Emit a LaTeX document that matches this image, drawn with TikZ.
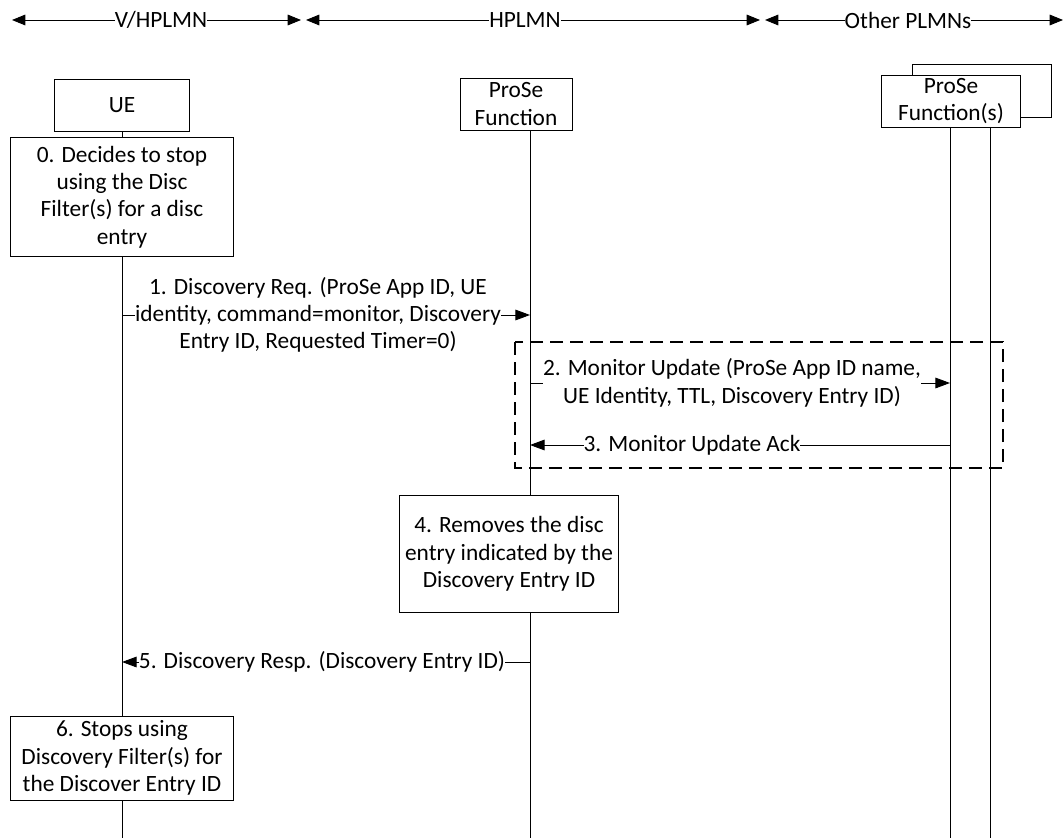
\documentclass[tikz,border=0pt]{standalone}
\usepackage{fontspec}
\setmainfont{Carlito}
\usetikzlibrary{arrows.meta}

\tikzset{
    entity/.style={draw, fill=white, align=center, minimum width=#1, minimum height=39pt, inner sep=2pt},
    entity/.default=101pt,
    action/.style={draw, fill=white, align=center, inner sep=3pt},
    msg/.style={-{Triangle[length=11pt,width=8pt]}},
    span/.style={{Triangle[length=10pt,width=8pt]}-{Triangle[length=10pt,width=8pt]}},
    msgtext/.style={fill=white, align=center, inner xsep=0pt, inner ysep=1pt},
}

\begin{document}
\begin{tikzpicture}[x=0.75pt, y=-0.75pt, font=\fontsize{17.5}{20.5}\selectfont, line width=0.7pt]
        \useasboundingbox (0,0) rectangle (1063,838);

        % Network spans
        \coordinate (S1) at (12, 20);
        \coordinate (S2) at (301, 20);
        \coordinate (S3) at (306, 20);
        \coordinate (S4) at (760, 20);
        \coordinate (S5) at (765, 20);
        \coordinate (S6) at (1063, 20);
        \draw[span] (S1) -- (S2);
        \draw[span] (S3) -- (S4);
        \draw[span] (S5) -- (S6);
        \node[msgtext] (vplmn) at (161, 20) {V/HPLMN};
        \node[msgtext] (hplmn) at (525, 20) {HPLMN};
        \node[msgtext] (oplmn) at (908, 20) {Other PLMNs};

        % Entities
        \node[entity=101pt] (ue) at (122, 105) {UE};
        \node[entity=84pt] (pf) at (516, 104) {ProSe\\Function};
        \node[draw, minimum width=104pt, minimum height=40pt] (pfsback) at (982, 91) {};
        \node[entity=104pt] (pfs) at (951, 101) {ProSe\\Function(s)};

        % Lifelines
        \coordinate (ueEnd) at (122, 838);
        \coordinate (pfEnd) at (530, 838);
        \coordinate (pfsA) at (950, 127);
        \coordinate (pfsAEnd) at (950, 838);
        \coordinate (pfsB) at (990, 127);
        \coordinate (pfsBEnd) at (990, 838);
        \coordinate (pfTop) at (530, 130);
        \draw (ue.south) -- (ueEnd);
        \draw (pfTop) -- (pfEnd);
        \draw (pfsA) -- (pfsAEnd);
        \draw (pfsB) -- (pfsBEnd);

        % Step 0
        \node[action, minimum width=167pt, minimum height=89pt] (step0) at (122, 197)
            {0. Decides to stop\\using the Disc\\Filter(s) for a disc\\entry};

        % Step 1
        \coordinate (m1a) at (122, 315);
        \coordinate (m1b) at (530, 315);
        \draw[msg] (m1a) -- (m1b);
        \node[msgtext] (msg1) at (318, 315)
            {1. Discovery Req. (ProSe App ID, UE\\identity, command=monitor, Discovery\\Entry ID, Requested Timer=0)};

        % Dashed frame for steps 2 and 3
        \coordinate (fr1) at (515, 342);
        \coordinate (fr2) at (1003, 468);
        \draw[line width=2.2pt, dash pattern=on 10pt off 5pt] (fr1) rectangle (fr2);

        % Step 2
        \coordinate (m2a) at (530, 383);
        \coordinate (m2b) at (950, 383);
        \draw[msg] (m2a) -- (m2b);
        \node[msgtext] (msg2) at (732, 383)
            {2. Monitor Update (ProSe App ID name,\\UE Identity, TTL, Discovery Entry ID)};

        % Step 3
        \coordinate (m3a) at (950, 445);
        \coordinate (m3b) at (530, 445);
        \draw[msg] (m3a) -- (m3b);
        \node[msgtext] (msg3) at (692, 445) {3. Monitor Update Ack};

        % Step 4
        \node[action, minimum width=164pt, minimum height=88pt] (step4) at (509, 554)
            {4. Removes the disc\\entry indicated by the\\Discovery Entry ID};

        % Step 5
        \coordinate (m5a) at (530, 662);
        \coordinate (m5b) at (122, 662);
        \draw[msg] (m5a) -- (m5b);
        \node[msgtext] (msg5) at (322, 662) {5. Discovery Resp. (Discovery Entry ID)};

        % Step 6
        \node[action, minimum width=167pt, minimum height=63pt] (step6) at (122, 758)
            {6. Stops using\\Discovery Filter(s) for\\the Discover Entry ID};
\end{tikzpicture}
\end{document}
